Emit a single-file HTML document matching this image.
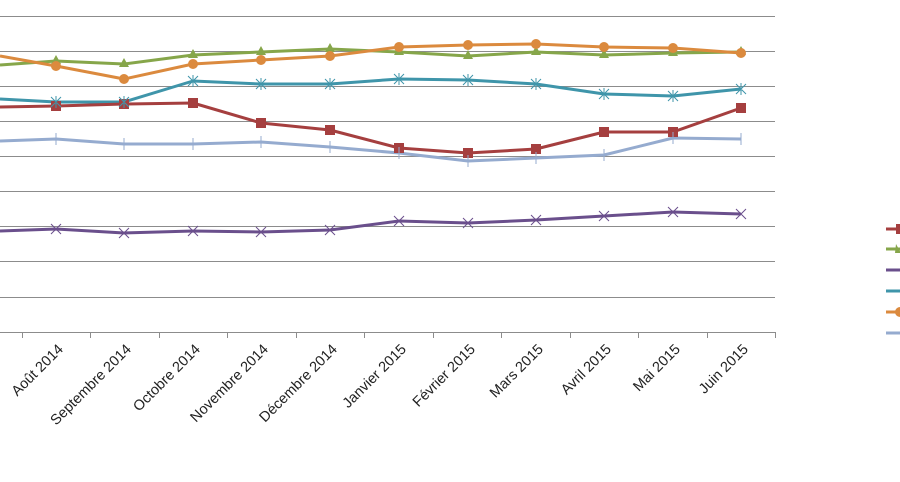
<!DOCTYPE html>
<html><head><meta charset="utf-8"><style>body{margin:0;background:#fff}svg{display:block}</style></head><body>
<svg width="900" height="482" xmlns="http://www.w3.org/2000/svg" font-family="Liberation Sans, sans-serif" font-size="14.5">
<g stroke="#8c8c8c" stroke-width="1">
<line x1="0" y1="16.5" x2="775" y2="16.5"/><line x1="0" y1="51.5" x2="775" y2="51.5"/><line x1="0" y1="86.5" x2="775" y2="86.5"/><line x1="0" y1="121.5" x2="775" y2="121.5"/><line x1="0" y1="156.5" x2="775" y2="156.5"/><line x1="0" y1="191.5" x2="775" y2="191.5"/><line x1="0" y1="226.5" x2="775" y2="226.5"/><line x1="0" y1="261.5" x2="775" y2="261.5"/><line x1="0" y1="297.5" x2="775" y2="297.5"/><line x1="0" y1="332.5" x2="775" y2="332.5"/>
<path d="M22.5 332v6M90.5 332v6M159.5 332v6M227.5 332v6M296.5 332v6M364.5 332v6M433.5 332v6M501.5 332v6M570.5 332v6M638.5 332v6M707.5 332v6M775.5 332v6"/>
</g>
<g fill="none" stroke-width="3" stroke-linejoin="round">
<polyline points="0,141 56,139 124,144 193,144 261,142 330,147 399,153 468,161 536,158 604,155 673,138 741,139" style="stroke:#95abcf"/>
<polyline stroke="#6a4f8c" points="0,231 56,229 124,233 193,231 261,232 330,230 399,221 468,223 536,220 604,216 673,212 741,214"/>
<polyline stroke="#3f95aa" points="0,99 56,102 124,102 193,81 261,84 330,84 399,79 468,80 536,84 604,94 673,96 741,89"/>
<polyline stroke="#a53f3f" points="0,107 56,106 124,104 193,103 261,123 330,130 399,148 468,153 536,149 604,132 673,132 741,108"/>
<polyline stroke="#86a64a" points="0,65 56,61 124,64 193,55 261,52 330,49 399,52 468,56 536,52 604,55 673,53 741,52"/>
<polyline stroke="#db8a3e" points="0,56 56,66 124,79 193,64 261,60 330,56 399,47 468,45 536,44 604,47 673,48 741,53"/>
</g>
<g fill="#a53f3f"><rect x="51" y="101" width="10" height="10"/><rect x="119" y="99" width="10" height="10"/><rect x="188" y="98" width="10" height="10"/><rect x="256" y="118" width="10" height="10"/><rect x="325" y="125" width="10" height="10"/><rect x="394" y="143" width="10" height="10"/><rect x="463" y="148" width="10" height="10"/><rect x="531" y="144" width="10" height="10"/><rect x="599" y="127" width="10" height="10"/><rect x="668" y="127" width="10" height="10"/><rect x="736" y="103" width="10" height="10"/></g>
<g fill="#86a64a"><path d="M56,55l5,9h-10zM124,58l5,9h-10zM193,49l5,9h-10zM261,46l5,9h-10zM330,43l5,9h-10zM399,46l5,9h-10zM468,50l5,9h-10zM536,46l5,9h-10zM604,49l5,9h-10zM673,47l5,9h-10zM741,46l5,9h-10z"/></g>
<g fill="#db8a3e"><circle cx="56" cy="66" r="5"/><circle cx="124" cy="79" r="5"/><circle cx="193" cy="64" r="5"/><circle cx="261" cy="60" r="5"/><circle cx="330" cy="56" r="5"/><circle cx="399" cy="47" r="5"/><circle cx="468" cy="45" r="5"/><circle cx="536" cy="44" r="5"/><circle cx="604" cy="47" r="5"/><circle cx="673" cy="48" r="5"/><circle cx="741" cy="53" r="5"/></g>
<g stroke="#6a4f8c" stroke-width="1"><path d="M51,224l10,10M61,224l-10,10M119,228l10,10M129,228l-10,10M188,226l10,10M198,226l-10,10M256,227l10,10M266,227l-10,10M325,225l10,10M335,225l-10,10M394,216l10,10M404,216l-10,10M463,218l10,10M473,218l-10,10M531,215l10,10M541,215l-10,10M599,211l10,10M609,211l-10,10M668,207l10,10M678,207l-10,10M736,209l10,10M746,209l-10,10"/></g>
<g stroke="#3f95aa" stroke-width="1"><path d="M51,97l10,10M61,97l-10,10M56,96v12M119,97l10,10M129,97l-10,10M124,96v12M188,76l10,10M198,76l-10,10M193,75v12M256,79l10,10M266,79l-10,10M261,78v12M325,79l10,10M335,79l-10,10M330,78v12M394,74l10,10M404,74l-10,10M399,73v12M463,75l10,10M473,75l-10,10M468,74v12M531,79l10,10M541,79l-10,10M536,78v12M599,89l10,10M609,89l-10,10M604,88v12M668,91l10,10M678,91l-10,10M673,90v12M736,84l10,10M746,84l-10,10M741,83v12"/></g>
<g stroke="#95abcf" stroke-width="1"><path d="M56,133v12M124,138v12M193,138v12M261,136v12M330,141v12M399,147v12M468,155v12M536,152v12M604,149v12M673,132v12M741,133v12"/></g>
<g stroke-width="3">
<line x1="886" y1="229" x2="900" y2="229" stroke="#a53f3f"/><rect x="896" y="224" width="6" height="10" fill="#a53f3f"/>
<line x1="886" y1="249" x2="900" y2="249" stroke="#86a64a"/><path d="M896,244l5,9h-6z" fill="#86a64a"/>
<line x1="886" y1="270" x2="900" y2="270" stroke="#6a4f8c"/>
<line x1="886" y1="291" x2="900" y2="291" stroke="#3f95aa"/>
<line x1="886" y1="312" x2="900" y2="312" stroke="#db8a3e"/><circle cx="900" cy="312" r="5" fill="#db8a3e"/>
<line x1="886" y1="333" x2="900" y2="333" stroke="#95abcf"/>
</g>
<g fill="#222" text-anchor="end">
<text transform="translate(64,350) rotate(-45)">Août 2014</text>
<text transform="translate(132,350) rotate(-45)">Septembre 2014</text>
<text transform="translate(201,350) rotate(-45)">Octobre 2014</text>
<text transform="translate(269,350) rotate(-45)">Novembre 2014</text>
<text transform="translate(338,350) rotate(-45)">Décembre 2014</text>
<text transform="translate(407,350) rotate(-45)">Janvier 2015</text>
<text transform="translate(476,350) rotate(-45)">Février 2015</text>
<text transform="translate(544,350) rotate(-45)">Mars 2015</text>
<text transform="translate(612,350) rotate(-45)">Avril 2015</text>
<text transform="translate(681,350) rotate(-45)">Mai 2015</text>
<text transform="translate(749,350) rotate(-45)">Juin 2015</text>
</g>
</svg>
</body></html>
